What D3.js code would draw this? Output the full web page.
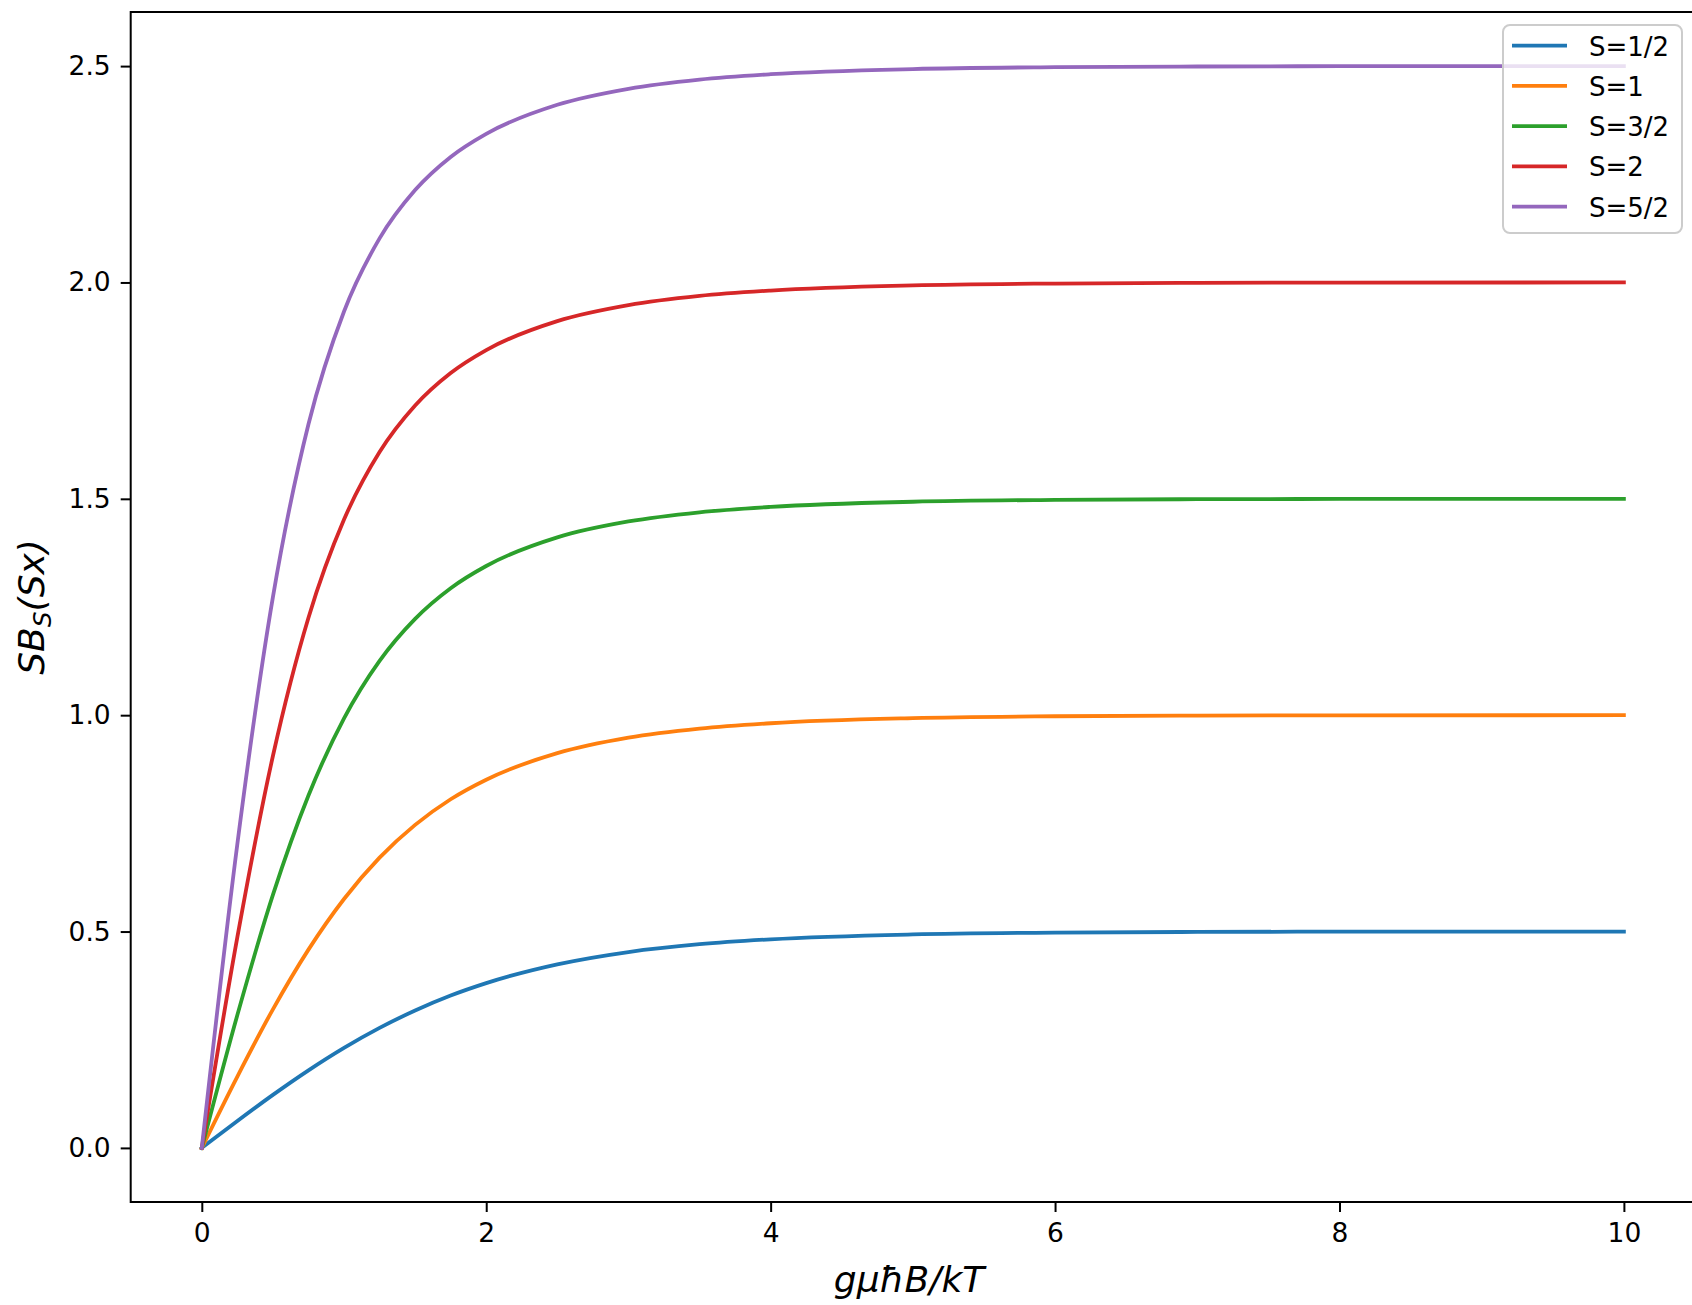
<!DOCTYPE html>
<html>
<head>
<meta charset="utf-8">
<script src="https://cdn.jsdelivr.net/npm/d3@7"></script>
<style>
body { margin:0; background:white; }
text { font-family:"DejaVu Sans", sans-serif; fill:#000; }
.tick text { font-size:26.5px; }
.label { font-size:36px; font-style:italic; }
.legend text { font-size:26px; }
</style>
</head>
<body>
<svg id="Brillouin"></svg>
<script>
// sampled x values (g mu hbar B / kT)
var xValues = [0, 0.25, 0.5, 0.75, 1, 1.25, 1.5, 1.75, 2, 2.5, 3, 3.5, 4, 5, 6, 7, 8, 10];

// S * B_S(S x)
var spinHalf     = [0, 0.0622, 0.1225, 0.1792, 0.2311, 0.2773, 0.3176, 0.3521, 0.3808, 0.4241, 0.4526, 0.4707, 0.4820, 0.4933, 0.4975, 0.4991, 0.4997, 0.5000];
var spinOne      = [0, 0.1650, 0.3202, 0.4582, 0.5752, 0.6707, 0.7465, 0.8057, 0.8509, 0.9122, 0.9480, 0.9689, 0.9814, 0.9932, 0.9975, 0.9991, 0.9997, 1.0000];
var spinThreeHalf= [0, 0.3071, 0.5846, 0.8143, 0.9927, 1.1256, 1.2227, 1.2935, 1.3448, 1.4108, 1.4476, 1.4689, 1.4813, 1.4932, 1.4975, 1.4991, 1.4997, 1.5000];
var spinTwo      = [0, 0.4870, 0.9056, 1.2252, 1.4520, 1.6081, 1.7156, 1.7907, 1.8437, 1.9106, 1.9476, 1.9689, 1.9813, 1.9932, 1.9975, 1.9991, 1.9997, 2.0000];
var spinFiveHalf = [0, 0.7025, 1.2729, 1.6722, 1.9329, 2.1018, 2.2135, 2.2901, 2.3435, 2.4106, 2.4476, 2.4689, 2.4813, 2.4932, 2.4975, 2.4991, 2.4997, 2.5000];

var seriesNames = ["S=1/2", "S=1", "S=3/2", "S=2", "S=5/2"];
var seriesColors = ["#1f77b4", "#ff7f0e", "#2ca02c", "#d62728", "#9467bd"];

var xTicks = [0, 2, 4, 6, 8, 10];
var yTicks = [0, 0.5, 1.0, 1.5, 2.0, 2.5];

var initGraph = function(target)
{
    var screen = {width:1692, height:1305};
    var margins = {top:12, left:130.7};
    var graph = {width:1695-margins.left, height:1202-margins.top};

    d3.select(target)
        .attr("width", screen.width)
        .attr("height", screen.height);

    var xScale = d3.scaleLinear()
        .domain([-0.5, 10.5])
        .range([margins.left, margins.left+graph.width]);
    var yScale = d3.scaleLinear()
        .domain([-0.125, 2.625])
        .range([margins.top+graph.height, margins.top]);

    var allSeries = [spinHalf, spinOne, spinThreeHalf, spinTwo, spinFiveHalf].map(function(vals, i)
    {
        return {name:seriesNames[i], color:seriesColors[i],
                points:xValues.map(function(x, j){ return {x:x, y:vals[j]}; })};
    });

    drawLines(allSeries, target, xScale, yScale);
    createAxes(margins, graph, target, xScale, yScale);
    createLabels(margins, graph, target);
    createLegend(allSeries, target);
}

var drawLines = function(allSeries, target, xScale, yScale)
{
    var line = d3.line()
        .x(function(p){ return xScale(p.x); })
        .y(function(p){ return yScale(p.y); })
        .curve(d3.curveMonotoneX);

    d3.select(target)
        .append("g")
        .selectAll("path")
        .data(allSeries)
        .enter()
        .append("path")
        .attr("d", function(s){ return line(s.points); })
        .attr("fill", "none")
        .attr("stroke", function(s){ return s.color; })
        .attr("stroke-width", 3.8)
        .attr("stroke-linejoin", "round")
        .attr("stroke-linecap", "square");
}

var createAxes = function(margins, graph, target, xScale, yScale)
{
    var xAxis = d3.axisBottom(xScale).tickValues(xTicks).tickFormat(d3.format("d"))
        .tickSizeInner(10).tickSizeOuter(0).tickPadding(11);
    var yAxis = d3.axisLeft(yScale).tickValues(yTicks).tickFormat(d3.format(".1f"))
        .tickSizeInner(10).tickSizeOuter(0).tickPadding(10);

    var axes = d3.select(target).append("g");
    var xg = axes.append("g")
        .attr("transform", "translate(0,"+(margins.top+graph.height)+")")
        .call(xAxis);
    var yg = axes.append("g")
        .attr("transform", "translate("+margins.left+",0)")
        .call(yAxis);

    [xg, yg].forEach(function(g)
    {
        g.select(".domain").remove();
        g.selectAll(".tick line").attr("stroke", "#000").attr("stroke-width", 2);
        g.selectAll(".tick text").attr("fill", "#000").style("font-family", "DejaVu Sans");
    });

    // frame
    axes.append("rect")
        .attr("x", margins.left)
        .attr("y", margins.top)
        .attr("width", graph.width)
        .attr("height", graph.height)
        .attr("fill", "none")
        .attr("stroke", "#000")
        .attr("stroke-width", 2);
}

var createLabels = function(margins, graph, target)
{
    var labels = d3.select(target).append("g");

    labels.append("text")
        .classed("label", true)
        .attr("text-anchor", "middle")
        .attr("x", 909)
        .attr("y", 1292)
        .text("gμħB/kT");

    var yl = labels.append("text")
        .classed("label", true)
        .attr("text-anchor", "middle")
        .attr("transform", "translate(44,"+(margins.top+graph.height/2)+") rotate(-90)");
    yl.append("tspan").text("SB");
    yl.append("tspan").attr("dy", 7).style("font-size", "25px").text("S");
    yl.append("tspan").attr("dy", -7).text("(Sx)");
}

var createLegend = function(allSeries, target)
{
    var legend = d3.select(target)
        .append("g")
        .classed("legend", true);

    legend.append("rect")
        .attr("x", 1503)
        .attr("y", 25)
        .attr("width", 179)
        .attr("height", 208)
        .attr("rx", 7)
        .attr("fill", "white")
        .attr("fill-opacity", 0.8)
        .attr("stroke", "#cccccc")
        .attr("stroke-width", 2);

    var rowY = d3.scaleLinear().domain([0, 4]).range([45.7, 206.7]);

    var rows = legend.selectAll(".row")
        .data(allSeries)
        .enter()
        .append("g")
        .attr("transform", function(s, i){ return "translate(0,"+rowY(i)+")"; });

    rows.append("line")
        .attr("x1", 1512).attr("x2", 1567)
        .attr("y1", 0).attr("y2", 0)
        .attr("stroke", function(s){ return s.color; })
        .attr("stroke-width", 3.8);

    rows.append("text")
        .attr("x", 1589)
        .attr("y", 10)
        .text(function(s){ return s.name; });
}

initGraph("#Brillouin");
</script>
</body>
</html>
